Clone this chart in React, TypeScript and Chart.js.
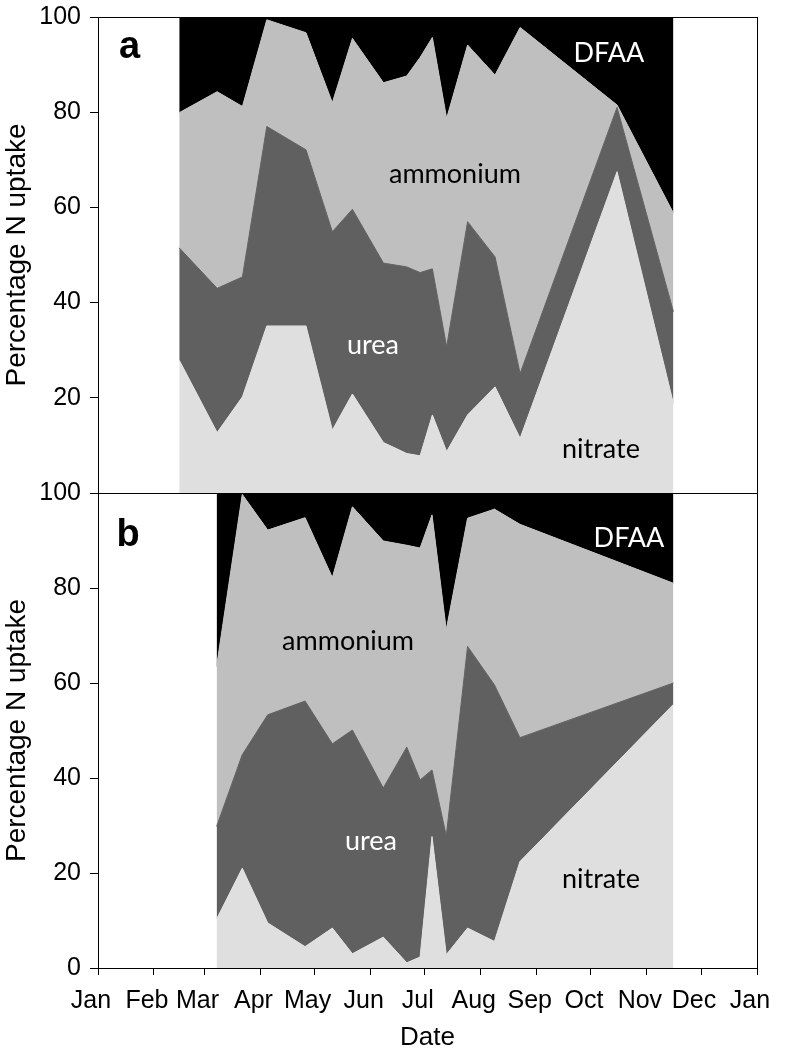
import React, { useEffect, useRef } from 'react';
import { Chart, registerables } from 'chart.js';

Chart.register(...registerables);

// ---- axis ticks ----
const monthTicks = [0, 31, 59, 90, 120, 151, 181, 212, 243, 273, 304, 334, 365];
const monthLabels = ['Jan', 'Feb', 'Mar', 'Apr', 'May', 'Jun', 'Jul', 'Aug', 'Sep', 'Oct', 'Nov', 'Dec', 'Jan'];
const yTicks = [0, 20, 40, 60, 80, 100];

// ---- panel a (day of year, % of N uptake) ----
const daysA = [45, 66, 80, 93.5, 115.2, 129.8, 140.9, 158.1, 171, 178.4, 185.2, 193.1, 204.7, 219.9, 233.8, 287.5, 318.7];
const nitrateA = [27.9, 12.7, 20.2, 35.1, 35.1, 13.2, 20.8, 10.6, 8.3, 7.8, 16.4, 8.7, 16.4, 22.3, 11.5, 67.5, 18.8];
const ureaA = [23.6, 30.3, 25.2, 41.9, 37.0, 41.7, 38.8, 37.7, 39.2, 38.5, 30.7, 22.0, 40.6, 27.3, 13.6, 13.5, 19.3];
const ammoniumA = [28.4, 41.3, 35.8, 22.4, 24.6, 27.1, 35.9, 37.9, 40.1, 45.2, 48.6, 48.0, 37.1, 38.2, 72.7, 0.5, 20.7];
const dfaaA = [20.1, 15.7, 18.8, 0.6, 3.3, 18.0, 4.5, 13.8, 12.4, 8.5, 4.3, 21.3, 5.9, 12.2, 2.2, 18.5, 41.2];

// ---- panel b ----
const daysB = [65.7, 79.9, 94, 114.7, 129.8, 140.9, 158, 171, 178.4, 185, 192.9, 204.7, 219.6, 233.7, 318.7];
const nitrateB = [10.3, 21.0, 9.5, 4.5, 8.4, 3.0, 6.5, 1.1, 2.3, 27.7, 2.8, 8.4, 5.6, 22.4, 55.5];
const ureaB = [19.5, 23.9, 43.8, 51.7, 38.8, 47.1, 31.4, 45.4, 37.3, 14.0, 25.0, 59.3, 54.0, 26.1, 4.5];
const ammoniumB = [33.7, 54.8, 38.9, 38.6, 35.0, 47.0, 52.0, 42.5, 48.8, 53.7, 43.4, 27.0, 37.0, 44.9, 21.0];
const dfaaB = [36.5, 0.3, 7.8, 5.2, 17.8, 2.9, 10.1, 11.0, 11.6, 4.6, 28.8, 5.3, 3.4, 6.6, 19.0];

// ---- in-plot labels (data units) ----
const notesA = [
  { text: 'DFAA', day: 283, value: 90.5, color: '#ffffff' },
  { text: 'ammonium', day: 197.7, value: 65.1, color: '#000000' },
  { text: 'urea', day: 152.3, value: 29.2, color: '#ffffff' },
  { text: 'nitrate', day: 278.6, value: 7.4, color: '#000000' },
];
const notesB = [
  { text: 'DFAA', day: 294.1, value: 88.6, color: '#ffffff' },
  { text: 'ammonium', day: 138.5, value: 67.0, color: '#000000' },
  { text: 'urea', day: 151.2, value: 24.9, color: '#ffffff' },
  { text: 'nitrate', day: 278.6, value: 16.9, color: '#000000' },
];
const letterA = { text: 'a', day: 11.6, value: 91.4 };
const letterB = { text: 'b', day: 10.2, value: 88.9 };

const COLORS = { nitrate: '#dfdfdf', urea: '#606060', ammonium: '#bfbfbf', dfaa: '#000000' };
const AXIS_FONT = "'Liberation Sans', Arial, sans-serif";
const NOTE_FONT = "Lato, 'Open Sans', sans-serif";

const W = 787;
const H = 1057;
const SHIFT_A = 20; // canvas A is lifted by this many px so its top label fits

const framePlugin = {
  id: 'frameNotes',
  afterDatasetsDraw(chart: any, _args: any, opts: any) {
    const { ctx, chartArea: ca, scales } = chart;
    const x = scales.x;
    const y = scales.y;
    ctx.save();
    ctx.strokeStyle = '#000';
    ctx.lineWidth = 1;
    ctx.strokeRect(ca.left + 0.5, ca.top + 0.5, ca.right - ca.left, ca.bottom - ca.top);
    ctx.textBaseline = 'alphabetic';
    ctx.textAlign = 'center';
    ctx.font = `27px ${NOTE_FONT}`;
    for (const n of opts.notes || []) {
      ctx.fillStyle = n.color;
      ctx.fillText(n.text, x.getPixelForValue(n.day), y.getPixelForValue(n.value));
    }
    if (opts.letter) {
      ctx.textAlign = 'left';
      ctx.fillStyle = '#000';
      ctx.font = `bold 38px ${AXIS_FONT}`;
      ctx.fillText(opts.letter.text, x.getPixelForValue(opts.letter.day), y.getPixelForValue(opts.letter.value));
    }
    ctx.restore();
  },
};

function makeConfig(
  days: number[],
  nitrate: number[],
  urea: number[],
  ammonium: number[],
  dfaa: number[],
  notes: any[],
  letter: any,
  showX: boolean,
  padTop: number,
  padBottom: number,
  hideZero: boolean
): any {
  const mk = (label: string, vals: number[], color: string, fill: any) => ({
    label,
    data: days.map((d, i) => ({ x: d, y: vals[i] })),
    backgroundColor: color,
    borderColor: color,
    borderWidth: 1,
    pointRadius: 0,
    pointHoverRadius: 0,
    tension: 0,
    fill,
  });
  return {
    type: 'line',
    data: {
      datasets: [
        mk('nitrate', nitrate, COLORS.nitrate, 'origin'),
        mk('urea', urea, COLORS.urea, '-1'),
        mk('ammonium', ammonium, COLORS.ammonium, '-1'),
        mk('DFAA', dfaa, COLORS.dfaa, '-1'),
      ],
    },
    options: {
      responsive: false,
      animation: false,
      devicePixelRatio: 1,
      events: [],
      layout: { padding: { top: padTop, right: 30, bottom: padBottom, left: 0 } },
      plugins: {
        legend: { display: false },
        tooltip: { enabled: false },
        frameNotes: { notes, letter },
      },
      scales: {
        x: {
          type: 'linear',
          min: 0,
          max: 365,
          display: showX,
          afterBuildTicks: (scale: any) => {
            scale.ticks = monthTicks.map((v) => ({ value: v }));
          },
          afterFit: (scale: any) => {
            scale.height = showX ? 89 : 0;
            scale.paddingLeft = 0;
            scale.paddingRight = 0;
          },
          grid: {
            display: true,
            drawOnChartArea: false,
            drawTicks: true,
            tickLength: 7,
            color: '#000',
          },
          border: { display: true, color: '#000', width: 1 },
          ticks: {
            autoSkip: false,
            maxRotation: 0,
            minRotation: 0,
            padding: 11,
            labelOffset: -7,
            color: '#000',
            font: { size: 25, family: AXIS_FONT },
            callback: (_v: any, i: number) => monthLabels[i],
          },
          title: {
            display: true,
            text: 'Date',
            color: '#000',
            font: { size: 26, family: AXIS_FONT },
            padding: { top: 0, bottom: 4 },
          },
        },
        y: {
          type: 'linear',
          stacked: true,
          min: 0,
          max: 100,
          afterBuildTicks: (scale: any) => {
            scale.ticks = yTicks.map((v) => ({ value: v }));
          },
          afterFit: (scale: any) => {
            scale.width = 98;
          },
          grid: {
            display: true,
            drawOnChartArea: false,
            drawTicks: true,
            tickLength: 8,
            color: '#000',
          },
          border: { display: true, color: '#000', width: 1 },
          ticks: {
            padding: 9,
            color: '#000',
            font: { size: 25, family: AXIS_FONT },
            callback: (v: any) => (hideZero && v === 0 ? '' : String(v)),
          },
          title: {
            display: true,
            text: 'Percentage N uptake',
            color: '#000',
            font: { size: 28, family: AXIS_FONT },
            padding: { top: 0, bottom: 0 },
          },
        },
      },
    },
    plugins: [framePlugin],
  };
}

export default function App() {
  const refA = useRef<HTMLCanvasElement | null>(null);
  const refB = useRef<HTMLCanvasElement | null>(null);

  useEffect(() => {
    if (!refA.current || !refB.current) return;
    const chartA = new Chart(
      refA.current,
      makeConfig(daysA, nitrateA, ureaA, ammoniumA, dfaaA, notesA, letterA, false, 17 + SHIFT_A, H - 493 - SHIFT_A, true)
    );
    const chartB = new Chart(
      refB.current,
      makeConfig(daysB, nitrateB, ureaB, ammoniumB, dfaaB, notesB, letterB, true, 493, 0, false)
    );
    return () => {
      chartA.destroy();
      chartB.destroy();
    };
  }, []);

  const canvasStyleA: React.CSSProperties = {
    position: 'absolute',
    top: -SHIFT_A,
    left: 0,
    width: W,
    height: H,
  };
  const canvasStyleB: React.CSSProperties = {
    position: 'absolute',
    top: 0,
    left: 0,
    width: W,
    height: H,
  };

  return (
    <div style={{ position: 'absolute', top: 0, left: 0, width: W, height: H, background: '#fff', overflow: 'hidden' }}>
      <canvas ref={refA} width={W} height={H} style={canvasStyleA} />
      <canvas ref={refB} width={W} height={H} style={canvasStyleB} />
    </div>
  );
}
